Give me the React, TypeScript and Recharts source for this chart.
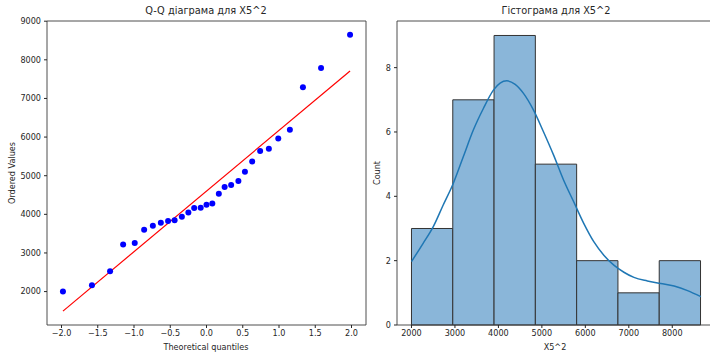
import React from 'react';
import { ComposedChart, Scatter, Line, XAxis, YAxis, ReferenceArea, ReferenceLine } from 'recharts';

// Q-Q plot: theoretical quantiles vs ordered values
const qqQuantiles = [-1.98, -1.58, -1.33, -1.15, -0.99, -0.86, -0.74, -0.63, -0.53, -0.44, -0.34, -0.25, -0.17, -0.08, 0, 0.08, 0.17, 0.25, 0.34, 0.44, 0.53, 0.63, 0.74, 0.86, 0.99, 1.15, 1.33, 1.58, 1.98];
const qqValues = [2000, 2165, 2525, 3220, 3255, 3600, 3705, 3780, 3830, 3850, 3935, 4045, 4165, 4170, 4245, 4280, 4535, 4710, 4760, 4865, 5105, 5370, 5640, 5700, 5965, 6190, 7290, 7790, 8650];
const fitX = [-1.98, 1.98];
const fitY = [1495, 7710];
const qqXTicks = [-2, -1.5, -1, -0.5, 0, 0.5, 1, 1.5, 2];
const qqYTicks = [2000, 3000, 4000, 5000, 6000, 7000, 8000, 9000];

// histogram
const binEdges = [2000, 2950, 3900, 4850, 5800, 6750, 7700, 8650];
const binCounts = [3, 7, 9, 5, 2, 1, 2];
const kdeX = [2000, 2268, 2499, 2730, 2961, 3192, 3423, 3654, 3885, 4039, 4194, 4386, 4577, 4808, 5039, 5270, 5501, 5732, 5963, 6194, 6425, 6656, 6887, 7118, 7427, 7734, 8042, 8351, 8658];
const kdeY = [1.97, 2.54, 3.05, 3.73, 4.4, 5.23, 6.06, 6.73, 7.3, 7.52, 7.59, 7.48, 7.2, 6.68, 6.0, 5.28, 4.5, 3.83, 3.16, 2.59, 2.17, 1.86, 1.64, 1.48, 1.37, 1.29, 1.21, 1.07, 0.88];
const histXTicks = [2000, 3000, 4000, 5000, 6000, 7000, 8000];
const histYTicks = [0, 2, 4, 6, 8];

const qqData = qqQuantiles.map((x, i) => ({ x, y: qqValues[i] }));
const kdeData = kdeX.map((x, i) => ({ x, y: kdeY[i] }));
const bins = binCounts.map((c, i) => ({ x1: binEdges[i], x2: binEdges[i + 1], c }));

const FONT = '"DejaVu Sans", sans-serif';
const INK = '#262626';
const tickStyle = { fontSize: 8.1, fill: INK, fontFamily: FONT };

const fmtQ = (v: number) => (v < 0 ? '\u2212' : '') + Math.abs(v).toFixed(1);

const text = (s: string, x: number, y: number, size: number, rotate = false) => (
  <div
    style={{
      position: 'absolute', left: x, top: y, whiteSpace: 'nowrap',
      transform: `translate(-50%, -50%)${rotate ? ' rotate(-90deg)' : ''}`,
      fontFamily: FONT, fontSize: size, color: INK, lineHeight: 1,
    }}
  >
    {s}
  </div>
);

export default function App() {
  return (
    <div style={{ position: 'absolute', left: 0, top: 0, width: 710, height: 357, overflow: 'hidden', background: '#fff' }}>
      <div style={{ position: 'absolute', left: 0, top: 0 }}>
        <ComposedChart width={380} height={357} margin={{ top: 21, right: 14, bottom: 0, left: 0 }}>
          <XAxis
            type="number" dataKey="x" domain={[-2.2, 2.2]} ticks={qqXTicks} allowDataOverflow
            tickFormatter={fmtQ} axisLine={false} tickSize={3} tickMargin={2}
            tickLine={{ stroke: INK }} tick={tickStyle} height={32} interval={0}
          />
          <YAxis
            type="number" dataKey="y" domain={[1135, 9005]} ticks={qqYTicks} allowDataOverflow
            axisLine={false} tickSize={3} tickMargin={3} tickLine={{ stroke: INK }}
            tick={tickStyle} width={47} interval={0}
          />
          <ReferenceArea x1={-2.2} x2={2.2} y1={1135} y2={9005} fill="none" stroke="#3a3a3a" strokeWidth={0.9} />
          <ReferenceLine
            segment={[{ x: fitX[0], y: fitY[0] }, { x: fitX[1], y: fitY[1] }]}
            stroke="#ff0000" strokeWidth={1.2}
          />
          <Scatter
            data={qqData} dataKey="y" isAnimationActive={false}
            shape={(p: any) => <circle cx={p.cx} cy={p.cy} r={3} fill="#0000ff" />}
          />
        </ComposedChart>
      </div>
      <div style={{ position: 'absolute', left: 355, top: 0 }}>
        <ComposedChart width={360} height={357} margin={{ top: 21, right: 0, bottom: 0, left: 0 }}>
          <XAxis
            type="number" dataKey="x" domain={[1667, 8983]} ticks={histXTicks} allowDataOverflow
            axisLine={false} tickSize={3} tickMargin={2} tickLine={{ stroke: INK }}
            tick={tickStyle} height={32} interval={0}
          />
          <YAxis
            type="number" domain={[0, 9.45]} ticks={histYTicks} allowDataOverflow
            axisLine={false} tickSize={3} tickMargin={3} tickLine={{ stroke: INK }}
            tick={tickStyle} width={42} interval={0}
          />
          {bins.map((b, i) => (
            <ReferenceArea
              key={i} x1={b.x1} x2={b.x2} y1={0} y2={b.c}
              fill="#8ab6d9" fillOpacity={1} stroke="#333333" strokeWidth={1}
            />
          ))}
          <ReferenceArea x1={1667} x2={8983} y1={0} y2={9.45} fill="none" stroke="#3a3a3a" strokeWidth={0.9} />
          <Line
            data={kdeData} dataKey="y" type="monotone" dot={false} stroke="#1f77b4"
            strokeWidth={1.5} isAnimationActive={false}
          />
        </ComposedChart>
      </div>
      {text('Q-Q діаграма для X5^2', 206, 11, 9.8)}
      {text('Ordered Values', 12, 173, 8.1, true)}
      {text('Theoretical quantiles', 206, 347, 8.1)}
      {text('Гістограма для X5^2', 556, 11, 9.8)}
      {text('Count', 377, 173, 8.1, true)}
      {text('X5^2', 555, 347, 8.1)}
    </div>
  );
}
